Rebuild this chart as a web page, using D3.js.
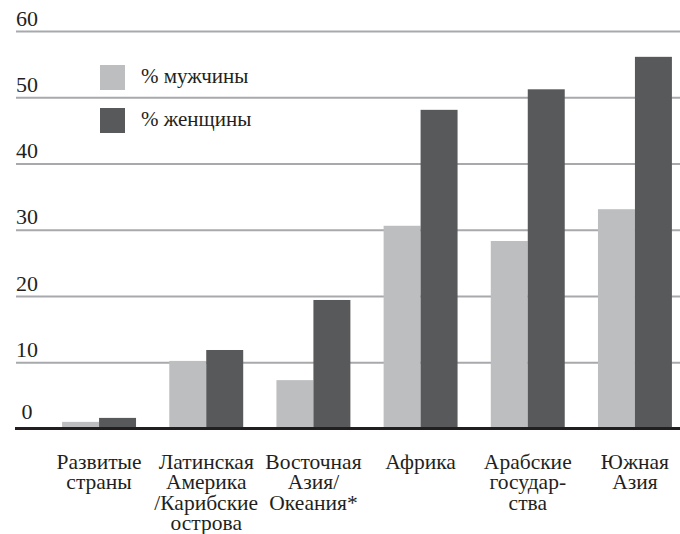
<!DOCTYPE html>
<html>
<head>
<meta charset="utf-8">
<script src="https://cdn.jsdelivr.net/npm/d3@7"></script>
<style>
body { margin: 0; background: #fff; }
</style>
</head>
<body>
<script>
//data
var regions = [
    ['Развитые', 'страны'],
    ['Латинская', 'Америка', '/Карибские', 'острова'],
    ['Восточная', 'Азия/', 'Океания*'],
    ['Африка'],
    ['Арабские', 'государ-', 'ства'],
    ['Южная', 'Азия']
];
var men   = [1.0, 10.2, 7.3, 30.6, 28.3, 33.1];
var women = [1.6, 11.85, 19.4, 48.1, 51.2, 56.1];
var y_ticks = [0, 10, 20, 30, 40, 50, 60];
var series = ['% мужчины', '% женщины'];

//layout
var svg_width = 680;
var svg_height = 534;
var grid_left = 16;
var base_y = 428.5;
var top_y = 31;
var colors = ['#bdbec0', '#58595b'];
var font = "'Liberation Serif', serif";
var ink = '#231f20';

var svg = d3.select('body').append('svg')
    .attr('width', svg_width)
    .attr('height', svg_height)
    .style('font-family', font);

//scales
var scale_x = d3.scaleBand()
    .domain(d3.range(regions.length))
    .range([grid_left, 718])
    .paddingInner(0.31)
    .paddingOuter(0.43);
var scale_s = d3.scaleBand()
    .domain(series)
    .range([0, scale_x.bandwidth()]);
var scale_y = d3.scaleLinear()
    .domain([0, 60])
    .range([base_y, top_y]);

//grid + y labels
var axis_y = d3.axisLeft(scale_y)
    .tickValues(y_ticks)
    .tickSize(-(svg_width - grid_left))
    .tickFormat(d3.format('d'));
var gy = svg.append('g')
    .attr('transform', 'translate(' + grid_left + ',0)')
    .call(axis_y)
    .attr('font-family', font)
    .attr('font-size', 22);
gy.select('.domain').remove();
gy.selectAll('.tick line')
    .attr('stroke', '#a7a9ac')
    .attr('stroke-width', 2)
    .filter(function(d) { return d === 0; }).remove();
gy.selectAll('.tick text')
    .attr('x', 11)
    .attr('dy', function(d) { return d === 0 ? -10 : -6; })
    .attr('text-anchor', 'middle')
    .attr('fill', ink);

//bars
var groups = svg.append('g').selectAll('g')
    .data(regions.map(function(r, i) { return [men[i], women[i]]; }))
    .enter().append('g')
    .attr('transform', function(d, i) { return 'translate(' + scale_x(i) + ',0)'; });
groups.selectAll('rect')
    .data(function(d) { return d; })
    .enter().append('rect')
    .attr('x', function(d, j) { return scale_s(series[j]); })
    .attr('y', function(d) { return scale_y(d); })
    .attr('width', scale_s.bandwidth())
    .attr('height', function(d) { return base_y - scale_y(d); })
    .attr('fill', function(d, j) { return colors[j]; });

//baseline
svg.append('line')
    .attr('x1', grid_left - 1)
    .attr('x2', svg_width)
    .attr('y1', scale_y(0))
    .attr('y2', scale_y(0))
    .attr('stroke', ink)
    .attr('stroke-width', 3);

//x labels
var labels = svg.append('g').selectAll('text')
    .data(regions)
    .enter().append('text')
    .attr('text-anchor', 'middle')
    .attr('fill', ink)
    .attr('font-size', 21.5)
    .attr('transform', function(d, i) {
        return 'translate(' + (scale_x(i) + scale_x.bandwidth() / 2) + ',469)';
    });
labels.selectAll('tspan')
    .data(function(d) { return d; })
    .enter().append('tspan')
    .attr('x', 0)
    .attr('y', function(d, k) { return k * 20.3; })
    .text(function(d) { return d; });

//legend
var key = svg.append('g').attr('transform', 'translate(100,65)');
series.forEach(function(s, i) {
    key.append('rect')
        .attr('x', 0)
        .attr('y', i * 43)
        .attr('width', 25)
        .attr('height', 25)
        .attr('fill', colors[i]);
    key.append('text')
        .attr('x', 41)
        .attr('y', i * 43 + 18)
        .attr('fill', ink)
        .attr('font-size', 21)
        .text(s);
});
</script>
</body>
</html>
